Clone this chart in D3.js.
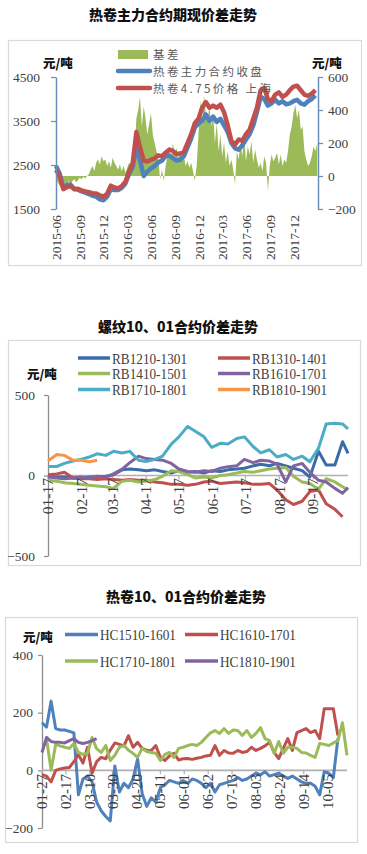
<!DOCTYPE html>
<html><head><meta charset="utf-8">
<script src="https://cdn.jsdelivr.net/npm/d3@7"></script>
<style>
body{margin:0;background:#fff;}
svg{display:block;}
</style></head><body>
<svg id="c" width="367" height="854"></svg>
<script>
// ================= DATA =================
// Chart 1: 热卷主力合约期现价差走势
const c1Title = "热卷主力合约期现价差走势";
const c1Start = "2015-06-01";
const c1End = "2018-03-01";
const c1PriceStepDays = 14;
const c1BasisStepDays = 7;
const c1XTicks = ["2015-06","2015-09","2015-12","2016-03","2016-06","2016-09","2016-12","2017-03","2017-06","2017-09","2017-12"];
const c1LeftTicks = [1500, 2500, 3500, 4500];
const c1RightTicks = [-200, 0, 200, 400, 600];
const c1Names = ["基差", "热卷主力合约收盘", "热卷4.75价格 上海"];
const c1Futures = [2480,2300,1980,2050,2050,1960,1940,1900,1870,1840,
  1800,1780,1720,1700,1780,1950,1930,1930,1980,2080,
  2300,2450,2900,2600,2250,2350,2420,2480,2560,2600,
  2700,2720,2650,2600,2620,2700,2900,3100,3350,3450,
  3500,3650,3500,3600,3480,3550,3400,3250,3000,2880,
  2850,2950,3080,3200,3400,3700,4050,4000,3850,3900,
  3980,3900,3950,3880,3900,3950,3980,3900,3870,3950,
  4000,4080];
const c1Spot = [2390,2250,1950,2000,2020,1950,1960,1920,1900,1880,
  1860,1850,1810,1780,1850,2030,1990,1970,2020,2120,
  2350,2550,3250,2900,2600,2580,2620,2650,2720,2700,
  2780,2850,2820,2750,2760,2800,3000,3200,3450,3550,
  3800,3930,3800,3850,3800,3870,3700,3400,3050,2960,
  3080,3050,3200,3300,3550,3800,4200,4250,4000,3950,
  4100,4150,4050,4100,4200,4280,4300,4200,4100,4070,
  4120,4200];
const c1Basis = [-20,-40,-60,-50,-70,
  -40,-50,-30,-60,-30,-20,-40,-25,
  -10,-20,-5,-15,0,10,
  40,60,30,80,100,70,120,90,
  100,60,90,50,110,80,60,
  40,70,30,60,20,50,
  80,60,100,150,350,
  400,480,300,420,350,250,
  320,380,250,200,150,100,
  -20,40,-30,60,
  120,150,100,200,130,170,110,140,90,120,
  60,90,50,80,30,-30,
  60,250,460,300,490,380,
  350,420,300,380,200,320,
  150,250,120,200,80,150,60,100,
  40,-50,
  150,100,200,120,250,90,180,130,210,80,160,100,
  50,80,30,
  120,80,-90,60,130,90,110,140,70,130,60,100,80,
  150,250,300,380,430,350,400,280,300,
  150,100,60,80,120,
  180,150,200];

// Chart 2: 螺纹10、01合约价差走势
const c2Title = "螺纹10、01合约价差走势";
const c2Dates = ["2017-01-01","2017-01-09","2017-01-16","2017-01-24","2017-01-31","2017-02-08","2017-02-15","2017-02-23",
  "2017-03-02","2017-03-10","2017-03-17","2017-03-25","2017-04-01","2017-04-09","2017-04-16","2017-04-24",
  "2017-05-01","2017-05-09","2017-05-16","2017-05-24","2017-05-31","2017-06-08","2017-06-15","2017-06-23",
  "2017-06-30","2017-07-08","2017-07-15","2017-07-23","2017-07-30","2017-08-07","2017-08-14","2017-08-22",
  "2017-08-29","2017-09-06","2017-09-13","2017-09-21","2017-09-28","2017-10-03"];
const c2XTicks = ["2017-01-01","2017-02-01","2017-03-01","2017-04-01","2017-05-01","2017-06-01","2017-07-01","2017-08-01","2017-09-01"];
const c2YTicks = [-500, 0, 500];
const c2Names = ["RB1210-1301","RB1310-1401","RB1410-1501","RB1610-1701","RB1710-1801","RB1810-1901"];
const rb1210 = [0,-10,-10,-15,-15,-10,-10,-5,5,35,40,35,30,35,25,15,30,20,25,15,30,25,35,40,45,60,70,60,75,60,45,30,-10,150,65,65,210,137];
const rb1310 = [5,10,20,-15,-20,-20,-25,-20,-25,-30,-25,-30,-30,-40,-45,-55,-55,-60,-55,-40,-35,-50,-45,-40,-45,-55,-55,-50,-90,-150,-180,-160,-100,-90,-175,-210,-256,null];
const rb1410 = [-30,-35,-45,-50,-55,-60,-65,-70,-80,-35,-30,-40,-35,-25,-5,30,25,5,-15,-10,-15,0,5,15,25,20,30,40,45,50,-5,-40,-50,-85,-20,-40,-70,-90];
const rb1610 = [-10,-15,-20,-15,-10,-15,-5,-10,10,40,80,120,105,100,95,75,40,25,20,30,25,45,55,60,100,80,95,90,70,-40,60,75,20,-30,-40,-80,-110,-75];
const rb1710 = [56,56,75,90,100,115,135,125,150,140,150,95,87,100,120,195,240,305,275,240,175,200,195,230,240,180,140,160,115,130,100,120,85,170,320,325,320,290];
const rb1810 = [90,130,125,95,95,85,95,null,null,null,null,null,null,null,null,null,null,null,null,null,null,null,null,null,null,null,null,null,null,null,null,null,null,null,null,null,null,null];

// Chart 3: 热卷10、01合约价差走势
const c3Title = "热卷10、01合约价差走势";
const c3Start = "2017-01-27";
const c3End = "2017-10-22";
const c3StepDays = 4;
const c3XTicks = ["01-27","02-17","03-10","03-30","04-20","05-11","06-01","06-22","07-13","08-03","08-24","09-14","10-05"];
const c3YTicks = [-200, 0, 200, 400];
const c3Names = ["HC1510-1601","HC1610-1701","HC1710-1801","HC1810-1901"];
const hc1510 = [165,150,240,145,140,140,135,130,-85,-30,
  -20,-40,-110,-140,-160,-175,15,-75,-45,-60,
  -30,40,-80,-125,-95,-110,-60,-50,-35,-40,
  -45,-35,-45,-30,-35,-45,-60,-45,-75,-50,
  -45,-40,-35,-25,-35,-30,-20,-10,-15,-5,
  -20,-15,-10,-20,-28,-20,-30,-40,-45,-45,
  -55,-85,-5,-10,-25,110,null,null];
const hc1610 = [-15,-20,-40,0,5,8,10,30,55,25,
  80,-10,30,45,40,70,95,90,85,120,
  80,97,76,70,69,86,45,34,50,59,
  36,40,41,38,42,45,50,52,86,52,
  69,60,59,69,62,65,80,69,76,85,
  97,62,41,76,110,69,131,138,145,131,
  138,110,214,214,214,121,null,null];
const hc1710 = [null,110,0,90,85,80,76,93,62,55,
  60,114,75,62,86,34,52,80,86,70,
  59,45,76,65,62,59,34,55,62,45,
  76,80,86,90,86,97,114,130,138,128,
  145,128,140,138,121,138,114,128,148,110,
  103,59,100,59,80,80,76,62,60,52,
  45,93,90,86,95,103,165,52];
const hc1810 = [62,114,100,97,97,95,103,110,97,93,97,103,110,
  null,null,null,null,null,null,null,null,null,null,null,null,null,null,null,null,null,null,null,null,null,null,null,null,null,null,null,null,null,null,null,null,null,null,null,null,null,null,null,null,null,null,null,null,null,null,null,null,null,null,null,null,null,null,null];

// ================= DRAWING =================
const svg = d3.select("#c");
const SERIF = '"Liberation Serif","Times New Roman",serif';
const CJK = '"Noto Sans CJK SC","Noto Sans CJK JP",sans-serif';
const TXT = "#404040";
const parseDay = d3.timeParse("%Y-%m-%d");
const C = {blue:"#4F81BD", red:"#C0504D", green:"#9BBB59", purple:"#8064A2", teal:"#4BACC6", orange:"#F79646", dblue:"#3B6CA8"};

function box(x, y, w, h) {
  svg.append("rect").attr("x", x + 0.5).attr("y", y + 0.5).attr("width", w).attr("height", h)
    .attr("fill", "#fff").attr("stroke", "#d9d9d9").attr("stroke-width", 1.2);
}
function title(t, x, y) {
  svg.append("text").attr("x", x).attr("y", y).attr("text-anchor", "middle")
    .attr("font-family", CJK).attr("font-weight", 900).attr("font-size", 14).attr("fill", "#111").text(t);
}
function unit(x, y) {
  svg.append("text").attr("x", x).attr("y", y).attr("font-family", CJK).attr("font-weight", 900)
    .attr("font-size", 12.5).attr("fill", "#111").text("元/吨");
}
function styleAxis(g, color, fs) {
  g.select(".domain").attr("stroke", color).attr("stroke-width", 1.5);
  g.selectAll(".tick line").attr("stroke", color).attr("stroke-width", 1.2);
  g.selectAll(".tick text").attr("font-family", SERIF).attr("font-size", fs).attr("fill", TXT);
}
function rotLabels(labels, xs, yTop, fs) {
  labels.forEach((lab, i) => {
    svg.append("text").attr("transform", `translate(${xs[i] + fs * 0.34},${yTop}) rotate(-90)`)
      .attr("text-anchor", "end").attr("font-family", SERIF).attr("font-size", fs).attr("fill", TXT).text(lab);
  });
}
const fmtInt = d3.format("d");

// ---------- Chart 1 ----------
box(8, 40, 353, 225);
title(c1Title, 173, 20);
{
  const start = parseDay(c1Start);
  const x1 = d3.scaleTime().domain([start, parseDay(c1End)]).range([56, 318]);
  const yL = d3.scaleLinear().domain([1500, 4500]).range([209, 77]);
  const yR = d3.scaleLinear().domain([-200, 600]).range([209, 77]);

  const basis = c1Basis.map((v, i) => ({d: d3.timeDay.offset(start, i * c1BasisStepDays), v}));
  svg.append("path").datum(basis).attr("fill", C.green)
    .attr("d", d3.area().x(d => x1(d.d)).y0(yR(0)).y1(d => yR(d.v)));

  const mk = arr => arr.map((v, i) => ({d: d3.timeDay.offset(start, i * c1PriceStepDays), v}));
  const line1 = d3.line().x(d => x1(d.d)).y(d => yL(d.v)).curve(d3.curveLinear);
  svg.append("path").datum(mk(c1Futures)).attr("fill", "none").attr("stroke", C.blue)
    .attr("stroke-width", 4.5).attr("stroke-linejoin", "round").attr("d", line1);
  svg.append("path").datum(mk(c1Spot)).attr("fill", "none").attr("stroke", C.red)
    .attr("stroke-width", 4.5).attr("stroke-linejoin", "round").attr("d", line1);

  const axCol = "#6A8DB8";
  const gL = svg.append("g").attr("transform", "translate(56,0)")
    .call(d3.axisLeft(yL).tickValues(c1LeftTicks).tickFormat(fmtInt).tickSize(5).tickSizeOuter(0).tickPadding(11));
  styleAxis(gL, axCol, 13.5);
  const gR = svg.append("g").attr("transform", "translate(318,0)")
    .call(d3.axisRight(yR).tickValues(c1RightTicks).tickFormat(fmtInt).tickSize(5).tickSizeOuter(0).tickPadding(5));
  styleAxis(gR, axCol, 13.5);

  const pm = d3.timeParse("%Y-%m");
  rotLabels(c1XTicks, c1XTicks.map(t => x1(pm(t))), 215, 13.5);

  unit(43, 68);
  unit(312, 68);

  // legend
  svg.append("rect").attr("x", 118).attr("y", 50).attr("width", 30).attr("height", 9).attr("fill", C.green);
  [[C.blue, 71], [C.red, 88]].forEach(([c, y]) => {
    svg.append("line").attr("x1", 118).attr("x2", 150).attr("y1", y).attr("y2", y)
      .attr("stroke", c).attr("stroke-width", 4.5).attr("stroke-linecap", "round");
  });
  [[c1Names[0], 58.5], [c1Names[1], 75.5], [c1Names[2], 92.5]].forEach(([t, y]) => {
    svg.append("text").attr("x", 153).attr("y", y).attr("font-family", CJK).attr("font-size", 11.5)
      .attr("letter-spacing", 2.4).attr("fill", "#595959").text(t);
  });
}

// ---------- Chart 2 ----------
box(8, 340, 352, 225);
title(c2Title, 178, 332);
{
  const dates = c2Dates.map(parseDay);
  const x2 = d3.scaleTime().domain([dates[0], dates[dates.length - 1]]).range([48, 348]);
  const y2 = d3.scaleLinear().domain([-500, 500]).range([556, 395]);

  const gY = svg.append("g").attr("transform", "translate(48,0)")
    .call(d3.axisLeft(y2).tickValues(c2YTicks).tickFormat(fmtInt).tickSize(4).tickSizeOuter(0).tickPadding(9));
  styleAxis(gY, "#8c8c8c", 13.5);
  gY.select(".domain").attr("stroke-width", 1.3);

  svg.append("line").attr("x1", 48).attr("x2", 348).attr("y1", y2(0)).attr("y2", y2(0))
    .attr("stroke", "#b0b0b0").attr("stroke-width", 1.6);
  const tickX = c2XTicks.map(t => x2(parseDay(t)));
  tickX.forEach(xx => svg.append("line").attr("x1", xx).attr("x2", xx).attr("y1", y2(0)).attr("y2", y2(0) + 4)
    .attr("stroke", "#b0b0b0").attr("stroke-width", 1.2));

  const series = [[rb1210, C.dblue], [rb1310, C.red], [rb1410, C.green], [rb1610, C.purple], [rb1710, C.teal], [rb1810, C.orange]];
  const ln = d3.line().defined(d => d.v != null).x(d => x2(d.d)).y(d => y2(d.v));
  series.forEach(([arr, col]) => {
    svg.append("path").datum(arr.map((v, i) => ({d: dates[i], v}))).attr("fill", "none")
      .attr("stroke", col).attr("stroke-width", 3).attr("stroke-linejoin", "round").attr("d", ln);
  });

  rotLabels(c2XTicks.map(t => d3.timeFormat("%m-%y")(parseDay(t))), tickX, 478, 15.5);

  unit(27, 379);

  // legend
  const cols = [C.dblue, C.red, C.green, C.purple, C.teal, C.orange];
  const rows = [358, 373.5, 389.5];
  c2Names.forEach((n, i) => {
    const col = i % 2, row = Math.floor(i / 2);
    const lx = col === 0 ? 78 : 218;
    const y = rows[row];
    svg.append("line").attr("x1", lx).attr("x2", lx + 32).attr("y1", y).attr("y2", y)
      .attr("stroke", cols[i]).attr("stroke-width", 3.5);
    svg.append("text").attr("x", lx + 34).attr("y", y + 5.5).attr("font-family", SERIF).attr("font-size", 15.5)
      .attr("textLength", 75).attr("lengthAdjust", "spacingAndGlyphs").attr("fill", TXT).text(n);
  });
}

// ---------- Chart 3 ----------
box(5, 617, 352, 225);
title(c3Title, 186, 602);
{
  const start = parseDay(c3Start);
  const x3 = d3.scaleTime().domain([start, parseDay(c3End)]).range([42, 347]);
  const y3 = d3.scaleLinear().domain([-200, 400]).range([828, 655]);

  const gY = svg.append("g").attr("transform", "translate(42,0)")
    .call(d3.axisLeft(y3).tickValues(c3YTicks).tickFormat(fmtInt).tickSize(4).tickSizeOuter(0).tickPadding(5));
  styleAxis(gY, "#8c8c8c", 13.5);
  gY.select(".domain").attr("stroke-width", 1.3);

  svg.append("line").attr("x1", 42).attr("x2", 347).attr("y1", y3(0)).attr("y2", y3(0))
    .attr("stroke", "#b0b0b0").attr("stroke-width", 1.6);
  const tickX = c3XTicks.map(t => x3(parseDay("2017-" + t)));
  tickX.forEach(xx => svg.append("line").attr("x1", xx).attr("x2", xx).attr("y1", y3(0)).attr("y2", y3(0) + 4)
    .attr("stroke", "#b0b0b0").attr("stroke-width", 1.2));

  const series = [[hc1510, C.blue], [hc1610, C.red], [hc1710, C.green], [hc1810, C.purple]];
  const ln = d3.line().defined(d => d.v != null).x(d => x3(d.d)).y(d => y3(d.v));
  series.forEach(([arr, col]) => {
    svg.append("path").datum(arr.map((v, i) => ({d: d3.timeDay.offset(start, i * c3StepDays), v}))).attr("fill", "none")
      .attr("stroke", col).attr("stroke-width", 3).attr("stroke-linejoin", "round").attr("d", ln);
  });

  rotLabels(c3XTicks, tickX, 774, 15);

  unit(23, 642);

  const cols = [C.blue, C.red, C.green, C.purple];
  const rows = [634.5, 661];
  c3Names.forEach((n, i) => {
    const col = i % 2, row = Math.floor(i / 2);
    const lx = col === 0 ? 65 : 185;
    const y = rows[row];
    svg.append("line").attr("x1", lx).attr("x2", lx + 33).attr("y1", y).attr("y2", y)
      .attr("stroke", cols[i]).attr("stroke-width", 3.5);
    svg.append("text").attr("x", lx + 35).attr("y", y + 5.5).attr("font-family", SERIF).attr("font-size", 15.5)
      .attr("textLength", 76).attr("lengthAdjust", "spacingAndGlyphs").attr("fill", TXT).text(n);
  });
}
</script>
</body></html>
